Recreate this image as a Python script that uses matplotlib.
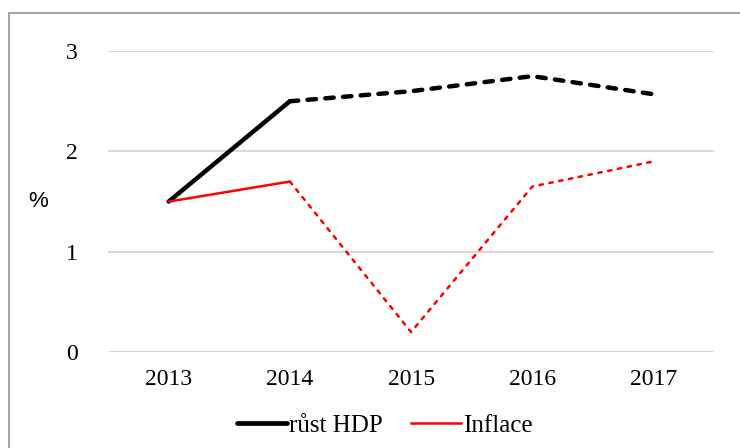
import matplotlib.pyplot as plt
from matplotlib.patches import Rectangle

years = ['2013', '2014', '2015', '2016', '2017']
hdp = [1.5, 2.5, 2.6, 2.75, 2.57]
inflace = [1.5, 1.7, 0.2, 1.65, 1.9]

plt.rcParams['font.family'] = ['Liberation Serif', 'DejaVu Serif']

fig = plt.figure(figsize=(7.4, 4.48), dpi=100)
ax = fig.add_axes([0.146, 0.214, 0.819, 0.672])

x = list(range(len(years)))

# solid for the first segment, dashed for the rest
ax.plot(x[:2], hdp[:2], color='black', lw=3.2, solid_capstyle='round', zorder=3)
ax.plot(x[1:], hdp[1:], color='black', lw=3.2, dashes=(1.9, 2.1),
        dash_capstyle='round', zorder=3)
ax.plot(x[:2], inflace[:2], color='#ff0000', lw=1.8, solid_capstyle='round', zorder=4)
ax.plot(x[1:], inflace[1:], color='#ff0000', lw=1.8, dashes=(1.4, 2.6),
        dash_capstyle='round', zorder=4)

ax.set_xlim(-0.5, len(years) - 0.5)
ax.set_ylim(0, 3)
ax.set_yticks([0, 1, 2, 3])
ax.set_xticks(x)
ax.set_xticklabels(years)
ax.grid(axis='y', color='#d9d9d9', lw=1.5)
ax.set_axisbelow(True)
for s in ax.spines.values():
    s.set_visible(False)
ax.tick_params(length=0, labelsize=17, colors='black')
ax.tick_params(axis='y', pad=22)
ax.tick_params(axis='x', pad=12)

fig.text(0.052, 0.55, '%', fontsize=16, ha='center', va='center',
         family='Liberation Sans')

h1, = ax.plot([], [], color='black', lw=3.4, solid_capstyle='round')
h2, = ax.plot([], [], color='#ff0000', lw=1.8)
fig.legend([h1, h2], ['růst HDP', 'Inflace'], loc='center',
           bbox_to_anchor=(0.52, 0.05), ncol=2, frameon=False,
           fontsize=18, handlelength=2.0, handletextpad=0.1,
           columnspacing=1.1)

fig.patches.append(Rectangle((0.012, -0.5), 2, 0.5 + 0.971,
                             transform=fig.transFigure, fill=False,
                             edgecolor='#a6a6a6', lw=1.5))

fig.savefig('out.png', dpi=100)
